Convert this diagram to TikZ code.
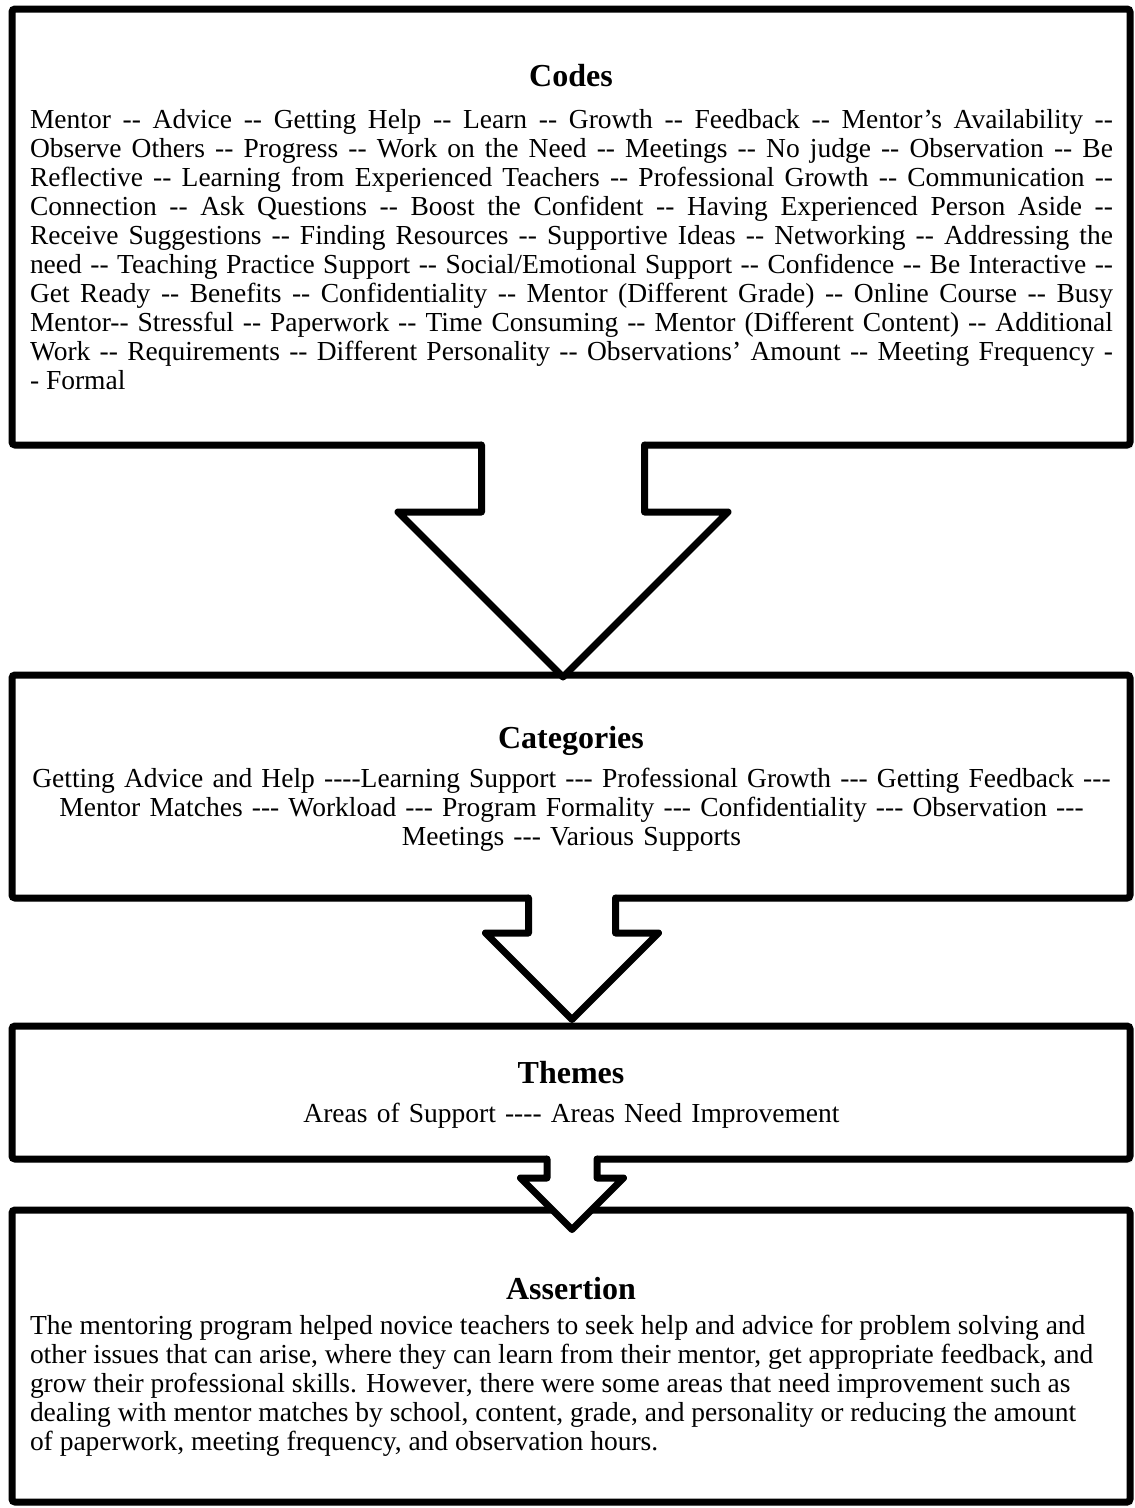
\documentclass[tikz,border=0pt]{standalone}
\usepackage{fontspec}
\setmainfont{Liberation Serif}[Ligatures=TeXOff]
\usetikzlibrary{positioning,shadows}
\hyphenpenalty=10000
\exhyphenpenalty=10000

\begin{document}
\begin{tikzpicture}[
            x=1pt, y=-1pt,
            node distance=230pt,
            boxNode/.style={rectangle, draw=black, fill=white, line width=7pt,
            rounded corners=3pt, minimum width=1118pt, inner sep=0pt, outer sep=0pt,
            drop shadow={opacity=0.15, shadow xshift=3pt, shadow yshift=-4pt}},
            titleNode/.style={anchor=base, inner sep=0pt,
            font=\bfseries\fontsize{32}{36}\selectfont},
            textNode/.style={anchor=north, inner sep=0pt, text width=1083pt,
            font=\fontsize{27.5}{29}\selectfont},
            blockArrow/.style={draw=black, line width=7pt, line join=round, line cap=round},
        ]
        \useasboundingbox (0,0) rectangle (1135,1508);
        \node[boxNode, minimum height=436pt] (codesBox) at (571,227) {};
        \node[boxNode, minimum height=223pt, below=230pt of codesBox] (catBox) {};
        \node[boxNode, minimum height=133pt, below=128pt of catBox] (themesBox) {};
        \node[boxNode, minimum height=292pt, below=51pt of themesBox] (assertBox) {};

        \path (codesBox.north) ++(0,77) node[titleNode] (codesTitle) {Codes};
        \path (codesBox.north) ++(0.5,98.7) node[textNode, align=justify] (codesText) {\strut
            Mentor -- Advice -- Getting Help -- Learn -- Growth -- Feedback -- Mentor’s Availability --\linebreak
            Observe Others -- Progress -- Work on the Need -- Meetings -- No judge -- Observation -- Be\linebreak
            Reflective -- Learning from Experienced Teachers -- Professional Growth -- Communication --\linebreak
            Connection -- Ask Questions -- Boost the Confident -- Having Experienced Person Aside --\linebreak
            Receive Suggestions -- Finding Resources -- Supportive Ideas -- Networking -- Addressing the\linebreak
            need -- Teaching Practice Support -- Social/Emotional Support -- Confidence -- Be Interactive --\linebreak
            Get Ready -- Benefits -- Confidentiality -- Mentor (Different Grade) -- Online Course -- Busy\linebreak
            Mentor-- Stressful -- Paperwork -- Time Consuming -- Mentor (Different Content) -- Additional\linebreak
            Work -- Requirements -- Different Personality -- Observations’ Amount -- Meeting Frequency -\linebreak
            - Formal};

        \path (catBox.north) ++(0,73) node[titleNode] (catTitle) {Categories};
        \path (catBox.north) ++(0.5,91.7) node[textNode, align=center] (catText) {\strut
            Getting Advice and Help ----Learning Support --- Professional Growth --- Getting Feedback ---\\
            Mentor Matches --- Workload --- Program Formality --- Confidentiality --- Observation ---\\
            Meetings --- Various Supports};

        \path (themesBox.north) ++(0,57) node[titleNode] (themesTitle) {Themes};
        \path (themesBox.north) ++(0.5,75.7) node[textNode, align=center] (themesText) {\strut
            Areas of Support ---- Areas Need Improvement};

        \path (assertBox.north) ++(0,89) node[titleNode] (assertTitle) {Assertion};
        \path (assertBox.north) ++(0.5,103.7) node[textNode, align=flush left] (assertText) {\strut
            The mentoring program helped novice teachers to seek help and advice for problem solving and\\
            other issues that can arise, where they can learn from their mentor, get appropriate feedback, and\\
            grow their professional skills. However, there were some areas that need improvement such as\\
            dealing with mentor matches by school, content, grade, and personality or reducing the amount\\
            of paperwork, meeting frequency, and observation hours.};

        % codes -> categories
        \path (codesBox.south) ++(-8,0) coordinate (codesArrowTop);
        \fill[white] ([yshift=5pt]codesArrowTop) ++(-81.5,0) -- ++(0,72) -- ++(-83.5,0)
            -- ++(165,165) -- ++(165,-165) -- ++(-83.5,0) -- ++(0,-72) -- cycle;
        \draw[blockArrow] (codesArrowTop) ++(-81.5,0) -- ++(0,67) -- ++(-83.5,0)
            -- ++(165,165) -- ++(165,-165) -- ++(-83.5,0) -- ++(0,-67);
        % categories -> themes
        \path (catBox.south) ++(1,0) coordinate (catArrowTop);
        \fill[white] ([yshift=5pt]catArrowTop) ++(-43.5,0) -- ++(0,40) -- ++(-43,0)
            -- ++(86.5,86.5) -- ++(86.5,-86.5) -- ++(-43,0) -- ++(0,-40) -- cycle;
        \draw[blockArrow] (catArrowTop) ++(-43.5,0) -- ++(0,35) -- ++(-43,0)
            -- ++(86.5,86.5) -- ++(86.5,-86.5) -- ++(-43,0) -- ++(0,-35);
        % themes -> assertion
        \path (themesBox.south) ++(1,0) coordinate (themesArrowTop);
        \fill[white] ([yshift=5pt]themesArrowTop) ++(-25,0) -- ++(0,24) -- ++(-26.5,0)
            -- ++(51.5,51.5) -- ++(51.5,-51.5) -- ++(-26.5,0) -- ++(0,-24) -- cycle;
        \draw[blockArrow] (themesArrowTop) ++(-25,0) -- ++(0,19) -- ++(-26.5,0)
            -- ++(51.5,51.5) -- ++(51.5,-51.5) -- ++(-26.5,0) -- ++(0,-19);
    \end{tikzpicture}
\end{document}
